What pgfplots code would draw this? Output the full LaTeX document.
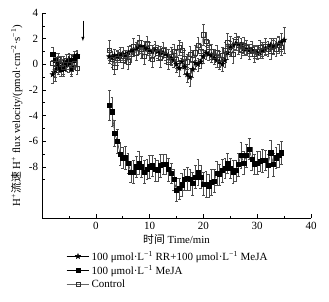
\documentclass[border=0pt]{standalone}
\usepackage{fontspec}
\setmainfont{Liberation Serif}
\newfontfamily\cjk{Noto Sans CJK SC}
\usepackage{pgfplots}
\usepackage{pgfplotstable}
\pgfplotsset{compat=1.18}
\pgfdeclareplotmark{fstar}{%
  \pgfpathmoveto{\pgfpointpolar{90}{\pgfplotmarksize}}%
  \pgfpathlineto{\pgfpointpolar{126}{0.4*\pgfplotmarksize}}%
  \pgfpathlineto{\pgfpointpolar{162}{\pgfplotmarksize}}%
  \pgfpathlineto{\pgfpointpolar{198}{0.4*\pgfplotmarksize}}%
  \pgfpathlineto{\pgfpointpolar{234}{\pgfplotmarksize}}%
  \pgfpathlineto{\pgfpointpolar{270}{0.4*\pgfplotmarksize}}%
  \pgfpathlineto{\pgfpointpolar{306}{\pgfplotmarksize}}%
  \pgfpathlineto{\pgfpointpolar{342}{0.4*\pgfplotmarksize}}%
  \pgfpathlineto{\pgfpointpolar{18}{\pgfplotmarksize}}%
  \pgfpathlineto{\pgfpointpolar{54}{0.4*\pgfplotmarksize}}%
  \pgfpathclose\pgfusepathqfillstroke}

\pgfplotstableread{
x y e
-8.0 0.8 0.5
-7.5 0.3 0.6
-7.0 -0.2 0.6
-6.5 -0.4 0.5
-6.0 -0.3 0.6
-5.5 0.0 0.5
-5.0 0.2 0.6
-4.5 -0.3 0.5
-4.0 0.3 0.5
-3.5 0.6 0.4
nan nan nan
2.5 -3.2 1.2
3.0 -3.7 1.1
3.5 -5.4 1.0
4.0 -6.0 0.9
4.5 -7.0 0.9
5.0 -7.3 0.8
5.5 -7.3 0.9
6.0 -7.7 0.8
6.5 -8.4 0.8
7.0 -8.4 0.9
7.5 -8.0 0.8
8.0 -7.7 0.9
8.5 -8.0 0.8
9.0 -8.4 0.9
9.5 -8.2 0.8
10.0 -8.0 0.9
10.5 -7.9 0.8
11.0 -8.2 0.9
11.5 -8.3 0.8
12.0 -7.9 0.9
12.5 -7.8 0.8
13.0 -7.8 0.8
13.5 -8.2 0.9
14.0 -8.5 0.8
14.5 -9.0 0.8
15.0 -9.8 0.9
15.5 -9.7 0.8
16.0 -9.4 0.9
16.5 -9.0 0.8
17.0 -8.9 0.9
17.5 -9.0 0.8
18.0 -9.3 0.9
18.5 -8.8 0.9
19.0 -8.4 1.0
19.5 -8.8 0.9
20.0 -9.35 0.9
20.5 -9.35 1.0
21.0 -9.5 0.9
21.5 -9.2 1.0
22.0 -9.1 0.9
22.5 -8.5 0.9
23.0 -8.6 0.8
23.5 -8.3 0.9
24.0 -8.1 0.8
24.5 -7.7 0.8
25.0 -8.1 0.8
25.5 -8.4 0.9
26.0 -8.3 0.8
26.5 -7.8 0.9
27.0 -7.1 1.0
27.5 -7.7 0.9
28.0 -7.1 0.9
28.5 -6.6 0.8
29.0 -7.4 0.9
29.5 -7.8 0.8
30.0 -7.7 0.9
30.5 -7.55 0.8
31.0 -7.5 0.9
31.5 -7.5 0.8
32.0 -7.9 0.9
32.5 -6.9 1.0
33.0 -7.8 0.9
33.5 -7.3 0.8
34.0 -7.1 0.9
34.5 -6.9 0.9
}\meja

\pgfplotstableread{
x y e
-8.0 -0.8 0.7
-7.5 -0.5 0.8
-7.0 0.0 0.6
-6.5 -0.3 0.6
-6.0 0.1 0.5
-5.5 0.2 0.6
-5.0 0.4 0.5
-4.5 0.3 0.5
-4.0 0.6 0.4
-3.5 0.7 0.4
nan nan nan
2.5 0.6 0.5
3.0 0.5 0.5
3.5 0.7 0.5
4.0 0.6 0.4
4.5 0.7 0.5
5.0 0.8 0.5
5.5 0.7 0.4
6.0 0.9 0.5
6.5 1.0 0.5
7.0 1.1 0.5
7.5 1.2 0.5
8.0 1.3 0.5
8.5 1.4 0.5
9.0 1.3 0.5
9.5 1.2 0.5
10.0 1.1 0.4
10.5 1.0 0.5
11.0 1.1 0.5
11.5 1.0 0.5
12.0 0.9 0.5
12.5 0.9 0.4
13.0 0.8 0.5
13.5 0.7 0.5
14.0 0.5 0.5
14.5 0.3 0.5
15.0 0.0 0.6
15.5 -0.3 0.6
16.0 0.2 0.5
16.5 -0.2 0.6
17.0 -0.8 0.6
17.5 -1.0 0.7
18.0 -0.4 0.6
18.5 0.1 0.5
19.0 0.0 0.5
19.5 0.2 0.5
20.0 0.6 0.5
20.5 0.9 0.5
21.0 0.8 0.5
21.5 0.7 0.5
22.0 0.5 0.5
22.5 0.3 0.5
23.0 0.2 0.6
23.5 0.0 0.5
24.0 0.3 0.5
24.5 0.9 0.5
25.0 1.3 0.5
25.5 1.5 0.5
26.0 1.6 0.5
26.5 1.6 0.5
27.0 1.5 0.5
27.5 1.2 0.5
28.0 1.2 0.4
28.5 1.1 0.5
29.0 1.1 0.5
29.5 1.0 0.5
30.0 0.9 0.5
30.5 0.9 0.4
31.0 1.1 0.5
31.5 1.2 0.5
32.0 1.3 0.5
32.5 1.5 0.5
33.0 1.4 0.5
33.5 1.5 0.5
34.0 1.6 0.6
34.5 1.7 0.7
35.0 1.9 1.0
}\rr

\pgfplotstableread{
x y e
-8.0 0.1 0.6
-7.5 -0.3 0.7
-7.0 0.4 0.5
-6.5 0.0 0.6
-6.0 -0.2 0.6
-5.5 0.3 0.5
-5.0 0.0 0.6
-4.5 -0.4 0.5
-4.0 0.1 0.5
-3.5 -0.3 0.5
nan nan nan
2.5 1.1 0.8
3.0 0.4 0.6
3.5 -0.2 0.6
4.0 0.5 0.6
4.5 0.8 0.5
5.0 0.3 0.6
5.5 0.6 0.5
6.0 0.2 0.6
6.5 0.8 0.6
7.0 1.4 0.6
7.5 0.9 0.6
8.0 1.7 0.6
8.5 1.2 0.7
9.0 0.6 0.6
9.5 1.6 0.6
10.0 1.0 0.7
10.5 0.4 0.6
11.0 1.2 0.6
11.5 0.9 0.6
12.0 0.5 0.7
12.5 1.1 0.6
13.0 0.7 0.6
13.5 0.2 0.6
14.0 0.6 0.7
14.5 1.0 0.6
15.0 0.4 0.7
15.5 1.3 0.6
16.0 1.1 0.6
16.5 0.5 0.6
17.0 0.2 0.6
17.5 0.8 0.6
18.0 0.4 0.7
18.5 0.9 0.6
19.0 1.5 0.6
19.5 1.0 0.6
20.0 2.3 0.8
20.5 1.8 0.7
21.0 1.3 0.6
21.5 1.0 0.6
22.0 0.6 0.6
22.5 0.9 0.6
23.0 0.4 0.6
23.5 0.7 0.6
24.0 1.1 0.6
24.5 1.7 0.7
25.0 1.4 0.8
25.5 0.8 0.7
26.0 1.8 0.6
26.5 1.5 0.7
27.0 1.1 0.6
27.5 1.5 0.6
28.0 1.3 0.6
28.5 1.0 0.6
29.0 1.2 0.6
29.5 0.8 0.6
30.0 1.0 0.5
30.5 1.3 0.6
31.0 1.1 0.6
31.5 1.4 0.6
32.0 1.2 0.6
32.5 1.0 0.6
33.0 1.4 0.6
33.5 1.2 0.6
34.0 1.5 0.6
34.5 1.3 0.6
}\ctrl

\begin{document}
\fontsize{11}{12}\selectfont
\begin{tikzpicture}
\begin{axis}[
  scale only axis,
  width=269pt, height=205pt,
  xmin=-10, xmax=40, ymin=-12, ymax=4,
  axis lines*=left,
  tick align=inside,
  xtick={0,10,20,30,40},
  minor xtick={-5,5,15,25,35},
  ytick={-8,-6,-4,-2,0,2,4},
  minor ytick={-9,-7,-5,-3,-1,1,3},
  major tick length=4pt, minor tick length=2.5pt,
  tick style={black, line width=0.5pt},
  axis line style={line width=0.6pt},
  /pgf/number format/assume math mode=true,
  ticklabel style={font=\fontsize{11}{12}\selectfont},
  xlabel={{\cjk 时间} Time/min},
  ylabel={H\textsuperscript{+}{\cjk 流速} H\textsuperscript{+} flux velocity/(pmol·cm\textsuperscript{−2}·s\textsuperscript{−1})},
  label style={font=\fontsize{10.8}{12}\selectfont},
  xlabel style={yshift=2pt},
  ylabel style={yshift=-1pt},
  clip=false,
  unbounded coords=jump,
  legend style={at={(axis description cs:0.09,-0.15)}, anchor=north west, draw=none, fill=none,
    font=\fontsize{11}{12}\selectfont, row sep=-0.5pt, inner sep=0pt},
  legend cell align=left,
  legend image code/.code={\draw[mark repeat=2,mark phase=2] plot coordinates {(0cm,0cm) (0.4cm,0cm) (0.8cm,0cm)};},
  every axis plot/.append style={line width=0.4pt},
  error bars/error bar style={line width=0.3pt, black!70},
  error bars/error mark options={rotate=90, mark size=1.4pt, line width=0.3pt, black!70},
]
\addplot[black, mark=fstar, mark size=2.8pt, mark options={fill=black},
  error bars/.cd, y dir=both, y explicit] table[x=x, y=y, y error=e] {\rr};
\addlegendentry{100 μmol·L\textsuperscript{−1} RR+100 μmol·L\textsuperscript{−1} MeJA}
\addplot[black, mark=square*, mark size=2.1pt, mark options={fill=black},
  error bars/.cd, y dir=both, y explicit] table[x=x, y=y, y error=e] {\meja};
\addlegendentry{100 μmol·L\textsuperscript{−1} MeJA}
\addplot[black!60, mark=square, mark size=2.1pt, mark options={fill=white, draw=black!80},
  error bars/.cd, y dir=both, y explicit] table[x=x, y=y, y error=e] {\ctrl};
\addlegendentry{Control}
\draw[-latex, line width=0.5pt] (axis cs:-2.4,3.4) -- (axis cs:-2.4,1.8);
\coordinate (sw) at (axis cs:-10,-12);
\coordinate (ne) at (axis cs:40,4);
\end{axis}
\path (sw) ++(-42pt,-83pt) coordinate (bb1);
\path (ne) ++(18pt,13pt) coordinate (bb2);
\path (bb1) rectangle (bb2);
\end{tikzpicture}
\end{document}
